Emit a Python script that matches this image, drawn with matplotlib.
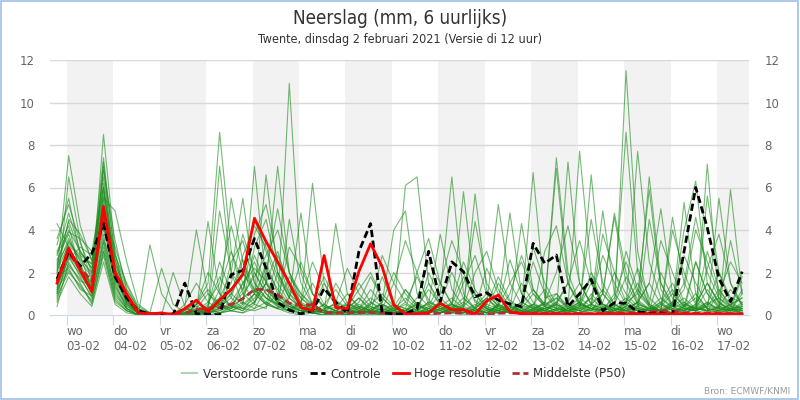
import matplotlib
matplotlib.use("Agg")
import matplotlib.pyplot as plt
import matplotlib.patches as patches
import numpy as np

# 6-uurlijkse tijdstappen, in dagen vanaf wo 03-02 00 uur (lokale tijd)
n_steps = 60
t = -5 / 24 + 0.25 * np.arange(n_steps)

day_names = ["wo", "do", "vr", "za", "zo", "ma", "di", "wo", "do", "vr", "za", "zo", "ma", "di", "wo"]
day_dates = ["03-02", "04-02", "05-02", "06-02", "07-02", "08-02", "09-02", "10-02",
             "11-02", "12-02", "13-02", "14-02", "15-02", "16-02", "17-02"]

controle = [1.7, 3.0, 2.3, 2.9, 4.3, 1.8, 0.8, 0.2, 0.05, 0.05,
            0.0, 1.5, 0.05, 0.05, 0.0, 1.9, 2.1, 3.6, 2.2, 0.6,
            0.23, 0.05, 0.2, 1.25, 0.6, 0.1, 3.0, 4.3, 0.1, 0.05,
            0.05, 0.3, 3.0, 0.63, 2.5, 2.04, 0.86, 1.05, 0.7, 0.52,
            0.4, 3.37, 2.43, 2.82, 0.4, 1.0, 1.68, 0.2, 0.58, 0.55,
            0.15, 0.08, 0.1, 0.0, 3.0, 6.0, 4.1, 1.73, 0.63, 2.04]

hoge_resolutie = [1.5, 3.15, 2.1, 1.1, 5.1, 2.0, 1.0, 0.1, 0.05, 0.1,
                  0.0, 0.3, 0.7, 0.15, 0.7, 1.2, 1.9, 4.55, 3.45, 2.5,
                  1.5, 0.36, 0.2, 2.8, 0.35, 0.3, 2.05, 3.35, 2.27, 0.47,
                  0.05, 0.05, 0.1, 0.55, 0.25, 0.25, 0.05, 0.66, 0.94, 0.15,
                  0.05, 0.05, 0.05, 0.05, 0.05, 0.05, 0.05, 0.05, 0.05, 0.05,
                  0.05, 0.05, 0.05, 0.05, 0.05, 0.05, 0.05, 0.05, 0.05, 0.05]

p50 = [1.6, 2.9, 2.2, 1.6, 4.6, 1.9, 0.8, 0.1, 0.05, 0.05,
       0.05, 0.1, 0.25, 0.3, 0.35, 0.5, 0.77, 1.2, 1.2, 0.95,
       0.55, 0.48, 0.48, 0.1, 0.1, 0.1, 0.12, 0.12, 0.1, 0.05,
       0.05, 0.05, 0.05, 0.08, 0.1, 0.1, 0.05, 0.05, 0.08, 0.1,
       0.1, 0.1, 0.08, 0.08, 0.05, 0.05, 0.05, 0.08, 0.1, 0.1,
       0.1, 0.15, 0.2, 0.2, 0.1, 0.08, 0.1, 0.1, 0.05, 0.05]

runs = [
    [2.0, 7.5, 4.2, 2.5, 6.5, 2.4, 1.0, 0.2, 0.1, 0.0, 0.0, 0.2, 0.5, 1.5, 8.6, 3.0, 1.0, 0.5, 0.3, 2.0,
     1.0, 0.3, 0.1, 0.5, 1.2, 0.4, 0.2, 0.1, 0.3, 1.5, 3.5, 2.0, 0.5, 0.2, 0.1, 0.4, 1.0, 0.3, 0.1, 0.2,
     0.5, 2.5, 1.0, 0.3, 0.2, 0.6, 1.8, 0.5, 0.2, 11.5, 3.0, 0.5, 0.2, 0.1, 0.4, 1.0, 0.3, 0.2, 0.5, 0.8],
    [1.0, 6.5, 3.5, 1.5, 8.5, 3.0, 0.5, 0.1, 0.0, 0.0, 0.1, 0.3, 0.2, 0.4, 7.0, 2.0, 0.5, 7.0, 1.5, 0.5,
     10.9, 2.0, 0.5, 0.2, 0.1, 0.3, 0.8, 0.2, 0.1, 0.0, 0.2, 0.5, 0.3, 1.0, 6.5, 1.0, 0.3, 0.1, 0.5, 0.2,
     0.1, 0.3, 0.5, 7.4, 2.0, 0.5, 0.3, 0.2, 1.0, 8.6, 2.0, 0.4, 0.2, 0.1, 0.5, 0.3, 1.2, 0.4, 0.2, 0.6],
    [3.3, 5.5, 2.8, 1.2, 7.2, 1.5, 0.3, 0.0, 3.3, 1.0, 0.2, 0.0, 0.1, 0.3, 0.6, 5.5, 2.5, 1.0, 6.6, 2.0,
     0.8, 4.8, 1.0, 0.3, 0.5, 0.2, 0.1, 0.6, 0.3, 0.2, 6.1, 6.5, 1.5, 0.4, 0.2, 0.1, 0.3, 0.8, 0.2, 0.1,
     0.3, 1.0, 0.4, 0.2, 7.2, 1.5, 0.5, 0.2, 0.1, 0.4, 7.7, 2.5, 0.8, 0.3, 0.2, 0.5, 1.5, 0.6, 0.2, 0.3],
    [1.5, 3.5, 2.6, 2.0, 5.5, 4.9, 2.5, 0.5, 0.1, 2.2, 0.5, 0.1, 0.2, 4.4, 1.0, 0.4, 0.3, 0.8, 1.5, 7.0,
     2.0, 0.5, 6.2, 1.5, 0.4, 0.2, 0.1, 0.3, 0.5, 0.2, 0.1, 0.4, 1.2, 0.5, 0.3, 5.8, 1.0, 0.3, 0.2, 0.1,
     0.4, 6.7, 0.8, 1.0, 0.3, 0.2, 6.6, 1.0, 0.3, 0.2, 0.4, 6.5, 1.5, 0.4, 0.2, 0.1, 7.1, 0.6, 0.3, 0.2],
    [0.8, 3.0, 2.2, 1.0, 4.5, 1.8, 0.6, 0.1, 0.0, 0.0, 2.0, 0.4, 4.0, 1.0, 0.5, 0.3, 1.5, 2.5, 1.2, 0.6,
     0.4, 0.3, 0.2, 0.1, 4.3, 1.0, 0.3, 0.2, 0.6, 4.0, 4.9, 1.0, 0.4, 0.2, 0.1, 0.3, 5.7, 1.2, 0.4, 0.2,
     0.1, 0.3, 0.5, 0.8, 0.4, 7.7, 2.0, 0.5, 0.3, 0.2, 0.6, 1.5, 5.0, 1.0, 0.4, 0.3, 0.2, 5.5, 1.5, 0.4],
    [2.5, 4.0, 3.0, 2.2, 6.0, 2.0, 0.8, 0.2, 0.0, 0.1, 0.0, 0.3, 0.2, 0.1, 4.9, 2.0, 5.5, 1.5, 0.8, 0.5,
     0.3, 0.6, 1.5, 0.5, 0.2, 0.1, 0.4, 0.2, 1.8, 0.5, 0.3, 0.2, 0.6, 0.4, 0.2, 0.5, 4.4, 1.5, 0.5, 0.2,
     4.3, 1.2, 0.5, 6.9, 1.5, 0.4, 0.2, 0.1, 0.3, 0.6, 1.0, 5.9, 1.2, 0.4, 5.3, 1.0, 0.3, 0.2, 5.9, 1.0],
    [1.2, 2.8, 1.8, 0.8, 3.5, 1.2, 0.4, 0.1, 0.0, 0.0, 0.1, 0.0, 0.5, 2.0, 1.0, 0.4, 0.2, 1.0, 3.5, 2.5,
     1.5, 0.8, 0.4, 0.2, 0.1, 0.0, 0.2, 0.5, 1.0, 0.4, 0.2, 0.8, 2.5, 1.5, 0.5, 0.3, 0.1, 0.2, 0.4, 1.5,
     2.5, 1.0, 0.4, 0.2, 0.1, 0.3, 0.5, 1.0, 4.8, 2.0, 0.5, 0.3, 0.2, 4.6, 1.5, 0.5, 0.2, 0.1, 0.3, 0.4],
    [0.4, 2.5, 1.5, 0.5, 3.0, 0.8, 0.2, 0.0, 0.0, 0.0, 0.0, 0.1, 0.0, 0.2, 0.5, 1.2, 2.0, 4.5, 3.0, 1.5,
     0.6, 0.3, 0.1, 0.0, 0.2, 0.5, 0.3, 0.1, 0.0, 0.2, 0.6, 1.8, 0.7, 0.3, 0.1, 0.0, 0.2, 0.5, 5.2, 1.5,
     0.5, 0.2, 0.1, 0.3, 0.6, 1.5, 0.5, 4.9, 1.0, 0.3, 0.2, 0.1, 0.5, 1.2, 0.4, 2.5, 1.0, 0.3, 0.2, 1.2],
    [4.3, 3.2, 2.0, 1.5, 4.0, 2.8, 1.5, 0.4, 0.1, 0.0, 0.0, 0.0, 0.2, 0.6, 1.5, 4.2, 2.0, 1.0, 0.5, 0.3,
     4.5, 1.5, 0.5, 0.2, 0.1, 0.0, 0.3, 0.8, 0.4, 0.2, 0.1, 0.3, 0.5, 3.8, 1.2, 0.4, 0.2, 0.1, 0.5, 4.8,
     1.0, 0.4, 0.2, 0.1, 0.3, 0.6, 4.5, 1.5, 0.5, 0.2, 0.1, 0.3, 0.8, 0.4, 4.0, 6.3, 1.5, 0.5, 0.3, 1.8],
    [1.8, 2.2, 1.2, 0.9, 3.2, 1.0, 0.3, 0.1, 0.0, 0.0, 0.0, 0.5, 1.5, 0.6, 0.3, 2.5, 3.5, 1.5, 0.8, 0.4,
     0.2, 0.1, 0.6, 1.8, 0.7, 0.3, 0.1, 0.2, 0.5, 0.3, 0.2, 0.1, 0.4, 1.5, 3.5, 2.0, 0.6, 0.3, 0.1, 0.2,
     0.5, 1.2, 0.5, 0.3, 0.2, 0.1, 0.4, 3.8, 2.0, 0.6, 0.3, 0.2, 0.1, 0.5, 1.5, 4.6, 2.0, 0.8, 0.4, 0.2],
    [2.2, 3.6, 2.5, 1.8, 5.0, 2.2, 0.9, 0.2, 0.0, 0.0, 0.1, 0.0, 0.0, 0.3, 0.8, 2.0, 1.2, 3.8, 5.2, 2.5,
     1.0, 0.5, 0.3, 0.2, 0.6, 2.2, 1.0, 0.4, 0.2, 0.1, 0.0, 0.2, 0.6, 0.3, 0.2, 1.5, 2.8, 1.0, 0.4, 0.2,
     0.1, 0.3, 0.6, 2.0, 4.2, 1.5, 0.5, 0.3, 0.2, 0.4, 1.2, 0.5, 3.5, 2.0, 0.6, 0.3, 0.2, 1.0, 2.5, 1.5],
    [1.4, 2.6, 3.2, 2.8, 4.2, 1.6, 0.5, 0.1, 0.0, 0.0, 0.0, 0.1, 0.3, 0.2, 0.5, 1.0, 2.8, 4.2, 3.2, 1.8,
     0.8, 0.4, 0.2, 0.1, 0.0, 0.1, 0.3, 1.2, 0.5, 0.2, 0.1, 0.0, 0.2, 0.4, 0.8, 0.3, 0.1, 0.2, 1.5, 0.6,
     0.3, 0.2, 3.0, 4.2, 1.5, 0.5, 0.3, 0.2, 0.1, 0.3, 0.6, 0.3, 0.2, 0.5, 1.2, 4.0, 2.5, 1.0, 0.4, 0.3],
    [0.9, 2.0, 1.4, 0.6, 2.8, 0.6, 0.2, 0.0, 0.0, 0.0, 0.0, 0.0, 0.1, 0.2, 0.3, 0.6, 1.5, 2.2, 1.6, 0.8,
     0.3, 0.2, 0.1, 0.3, 0.5, 0.2, 0.1, 0.0, 0.1, 0.3, 0.2, 0.1, 0.3, 0.6, 0.2, 0.1, 0.3, 0.8, 0.3, 0.1,
     0.2, 0.5, 0.3, 0.1, 0.2, 0.4, 0.8, 0.3, 0.2, 0.1, 0.3, 0.2, 0.5, 0.2, 0.1, 0.3, 0.6, 0.2, 0.1, 0.3],
    [2.8, 4.8, 3.0, 2.2, 6.8, 3.5, 1.2, 0.3, 0.0, 0.0, 0.0, 0.1, 0.0, 0.4, 2.5, 1.0, 0.5, 3.2, 4.5, 2.0,
     0.8, 0.3, 0.1, 0.2, 0.4, 0.2, 0.6, 1.8, 0.8, 0.3, 0.2, 0.1, 2.0, 0.8, 0.3, 0.2, 0.1, 0.4, 0.2, 1.0,
     2.8, 1.2, 0.4, 0.2, 0.5, 0.3, 0.2, 1.0, 4.6, 1.5, 0.5, 0.3, 0.2, 0.4, 0.8, 0.3, 5.6, 2.0, 0.6, 0.3],
    [1.6, 3.0, 2.4, 1.2, 4.8, 1.4, 0.4, 0.1, 0.0, 0.0, 0.0, 0.0, 0.2, 0.1, 0.3, 0.5, 1.0, 1.8, 2.8, 4.0,
     2.0, 1.0, 0.5, 0.2, 0.1, 0.0, 0.2, 0.4, 0.2, 0.1, 0.3, 2.0, 3.6, 1.5, 0.5, 0.3, 0.2, 0.1, 0.3, 0.5,
     0.2, 0.1, 0.4, 0.8, 0.3, 0.2, 0.5, 1.2, 0.5, 0.2, 0.1, 4.5, 1.5, 0.5, 0.3, 0.2, 0.4, 1.2, 0.5, 0.3],
    [3.0, 4.2, 2.0, 1.0, 5.8, 2.6, 1.0, 0.2, 0.0, 0.0, 0.1, 0.0, 0.0, 0.1, 1.2, 3.0, 1.5, 0.6, 2.5, 1.0,
     0.4, 0.2, 0.1, 0.0, 0.2, 0.5, 1.5, 0.6, 0.2, 0.1, 0.0, 0.1, 0.3, 0.2, 0.6, 2.5, 1.2, 0.4, 0.2, 0.1,
     0.3, 0.5, 0.2, 0.6, 1.5, 3.5, 1.5, 0.5, 0.3, 0.2, 0.6, 1.5, 0.5, 0.3, 0.2, 0.4, 3.0, 1.2, 0.4, 2.0],
    [0.6, 1.8, 1.0, 0.4, 2.5, 0.5, 0.1, 0.0, 0.0, 0.0, 0.0, 0.0, 0.0, 0.1, 0.2, 0.4, 0.8, 1.2, 0.8, 0.5,
     1.8, 1.0, 0.4, 0.2, 0.1, 0.0, 0.1, 0.2, 0.3, 0.1, 0.0, 0.2, 0.1, 0.3, 0.5, 0.2, 0.1, 0.0, 0.2, 0.4,
     0.1, 0.2, 0.3, 0.1, 0.2, 0.5, 0.3, 0.1, 0.2, 0.4, 0.2, 0.1, 0.2, 0.3, 0.1, 0.4, 0.2, 0.3, 0.1, 0.2],
    [2.4, 3.4, 2.8, 2.4, 5.2, 2.0, 0.7, 0.1, 0.0, 0.0, 0.0, 0.2, 0.6, 0.3, 0.1, 0.4, 1.2, 2.8, 1.5, 0.6,
     3.2, 2.2, 1.0, 0.4, 0.2, 0.1, 0.0, 0.2, 0.6, 2.0, 1.0, 0.4, 0.2, 0.1, 0.3, 0.8, 0.3, 2.2, 1.0, 0.4,
     0.2, 0.1, 0.3, 0.6, 0.2, 0.4, 2.0, 1.0, 0.4, 3.0, 1.2, 0.4, 0.2, 0.6, 2.8, 1.5, 0.5, 0.3, 3.5, 1.0],
    [1.1, 2.4, 1.6, 1.4, 3.8, 1.1, 0.3, 0.0, 0.0, 0.0, 0.0, 0.0, 0.1, 0.5, 1.8, 0.8, 0.3, 0.6, 1.5, 3.0,
     1.2, 0.5, 0.2, 0.1, 0.0, 0.2, 0.5, 0.2, 0.1, 0.0, 1.2, 0.5, 0.2, 0.1, 0.4, 0.2, 0.1, 0.5, 1.8, 0.7,
     0.3, 0.1, 0.2, 0.5, 0.2, 0.1, 1.0, 0.4, 0.2, 0.6, 2.2, 0.8, 0.3, 0.1, 0.2, 0.5, 1.5, 0.6, 0.2, 0.1],
    [3.6, 5.2, 3.4, 2.0, 6.2, 1.8, 0.6, 0.1, 0.0, 0.0, 0.0, 0.0, 0.3, 1.0, 0.4, 0.2, 0.1, 0.5, 2.0, 5.0,
     2.0, 0.8, 0.3, 0.1, 0.3, 1.0, 0.4, 0.2, 0.1, 0.0, 0.2, 0.6, 0.3, 0.1, 0.2, 0.4, 2.0, 3.0, 1.2, 0.4,
     0.2, 0.1, 0.4, 1.0, 0.4, 0.2, 0.5, 0.3, 0.8, 2.5, 1.0, 0.4, 0.2, 4.0, 2.0, 0.6, 0.3, 0.2, 0.5, 0.8],
    [1.3, 2.9, 2.0, 1.6, 4.4, 1.3, 0.5, 0.1, 0.0, 0.0, 0.0, 0.1, 0.0, 0.2, 0.5, 0.3, 0.8, 2.0, 1.0, 0.4,
     0.2, 0.6, 2.5, 1.2, 0.5, 0.2, 0.1, 0.0, 0.2, 0.5, 0.3, 0.1, 0.2, 0.6, 2.0, 0.8, 0.3, 0.1, 0.2, 0.4,
     0.2, 0.1, 0.3, 0.5, 1.5, 0.6, 0.3, 0.2, 0.1, 0.3, 0.6, 0.2, 0.4, 1.0, 0.4, 0.2, 0.6, 0.3, 0.2, 0.4],
    [2.6, 3.8, 2.2, 1.4, 7.0, 2.8, 1.2, 0.3, 0.1, 0.0, 0.0, 0.0, 0.2, 0.1, 0.3, 1.0, 2.0, 1.2, 0.6, 0.3,
     0.8, 2.5, 1.0, 0.4, 0.2, 0.1, 0.0, 0.5, 2.8, 1.5, 0.6, 0.2, 0.1, 0.3, 0.5, 0.2, 0.4, 1.0, 0.4, 2.6,
     1.0, 0.3, 0.2, 0.5, 0.2, 0.3, 0.8, 2.8, 1.5, 0.5, 0.2, 0.1, 0.3, 0.6, 0.3, 0.2, 2.2, 3.8, 1.5, 0.5],
    [0.7, 2.3, 1.7, 0.9, 3.4, 0.9, 0.3, 0.0, 0.0, 0.0, 0.0, 0.0, 0.0, 0.0, 0.1, 0.2, 0.5, 1.0, 2.2, 1.2,
     0.5, 0.2, 0.1, 0.0, 0.1, 0.3, 0.8, 0.3, 0.1, 0.0, 0.1, 0.2, 0.1, 0.3, 0.1, 0.2, 0.5, 0.2, 0.1, 0.3,
     0.6, 0.3, 0.1, 0.2, 0.4, 0.2, 0.1, 0.3, 0.5, 0.2, 0.1, 0.3, 0.2, 0.1, 0.4, 0.8, 0.3, 0.1, 0.2, 0.3],
    [1.9, 4.5, 3.8, 2.6, 5.6, 2.2, 0.8, 0.2, 0.0, 0.0, 0.0, 0.0, 0.0, 0.2, 0.6, 1.5, 3.8, 2.0, 1.0, 0.5,
     0.2, 0.1, 0.4, 1.5, 0.6, 0.3, 0.1, 0.2, 0.1, 0.3, 0.8, 0.3, 0.1, 0.2, 0.5, 1.8, 0.7, 0.3, 0.1, 0.2,
     0.4, 3.2, 1.5, 0.5, 0.2, 0.1, 0.3, 0.6, 2.0, 1.0, 0.4, 0.2, 0.6, 1.5, 0.5, 0.3, 0.2, 0.4, 1.2, 0.5],
    [1.0, 2.7, 1.9, 1.1, 3.6, 1.7, 0.6, 0.1, 0.0, 0.0, 0.0, 0.1, 0.4, 0.2, 0.1, 0.3, 0.6, 0.3, 1.2, 0.6,
     0.3, 0.1, 0.2, 0.5, 0.2, 0.1, 0.0, 0.1, 0.3, 0.1, 0.2, 0.5, 0.2, 0.1, 0.3, 0.6, 0.2, 0.1, 0.4, 0.2,
     0.1, 0.5, 1.2, 0.4, 0.2, 0.1, 0.3, 0.5, 0.2, 0.6, 1.5, 0.5, 0.2, 0.1, 0.3, 0.2, 0.5, 0.8, 0.3, 0.2],
    [2.1, 3.3, 2.7, 1.9, 4.6, 3.2, 1.4, 0.3, 0.0, 0.0, 0.0, 0.0, 0.1, 0.3, 0.8, 0.4, 0.2, 0.6, 1.5, 0.8,
     0.4, 0.2, 0.5, 0.2, 1.5, 0.6, 0.2, 0.1, 0.0, 0.2, 0.5, 0.2, 1.5, 0.6, 0.2, 0.1, 0.3, 0.1, 0.5, 0.3,
     1.5, 0.6, 0.2, 0.1, 0.3, 0.8, 0.4, 0.2, 0.5, 1.8, 0.7, 0.3, 0.2, 0.4, 0.2, 2.5, 1.0, 0.4, 0.2, 1.0],
    [1.7, 3.1, 2.3, 1.3, 5.4, 1.9, 0.7, 0.1, 0.0, 0.0, 0.0, 0.0, 0.0, 0.1, 0.2, 0.5, 0.3, 0.2, 0.4, 1.0,
     0.5, 0.2, 0.1, 0.0, 0.1, 0.2, 0.4, 0.2, 0.1, 0.0, 0.0, 0.1, 0.2, 0.1, 0.3, 0.2, 0.1, 0.3, 0.2, 0.1,
     0.2, 0.4, 0.2, 0.1, 0.3, 0.6, 0.3, 0.1, 0.2, 0.5, 0.2, 0.3, 0.6, 0.2, 0.1, 0.3, 0.2, 0.4, 0.3, 0.1],
    [2.9, 3.9, 3.6, 3.0, 6.0, 2.4, 1.0, 0.2, 0.0, 0.0, 0.0, 0.0, 0.5, 1.2, 0.5, 0.2, 0.4, 1.0, 0.5, 2.8,
     1.5, 0.6, 0.3, 0.1, 0.0, 0.4, 1.2, 2.0, 0.8, 0.3, 0.1, 0.0, 0.2, 0.5, 0.3, 0.1, 0.3, 0.8, 0.3, 0.2,
     0.1, 0.2, 0.6, 0.3, 0.1, 0.4, 1.5, 0.5, 0.3, 0.2, 0.4, 0.2, 2.0, 0.8, 0.3, 0.2, 0.5, 2.0, 0.8, 0.6],
    [1.2, 2.1, 1.3, 0.7, 3.0, 0.7, 0.2, 0.0, 0.0, 0.0, 0.0, 0.0, 0.0, 0.0, 0.1, 0.2, 0.1, 0.3, 0.6, 0.3,
     0.1, 0.0, 0.1, 0.2, 0.1, 0.0, 0.2, 0.1, 0.0, 0.1, 0.2, 0.1, 0.0, 0.1, 0.2, 0.3, 0.1, 0.0, 0.1, 0.3,
     0.1, 0.2, 0.1, 0.3, 0.2, 0.1, 0.2, 0.4, 0.1, 0.2, 0.3, 0.1, 0.2, 0.1, 0.3, 0.2, 0.1, 0.2, 0.3, 0.1],
    [2.3, 4.4, 2.9, 2.4, 7.4, 2.6, 0.9, 0.2, 0.0, 0.0, 0.0, 0.1, 0.0, 0.2, 0.4, 0.8, 2.6, 1.2, 0.5, 0.3,
     0.2, 0.5, 0.3, 0.1, 0.2, 0.6, 0.3, 0.1, 0.0, 0.4, 1.2, 0.5, 0.2, 0.1, 0.3, 0.1, 0.2, 0.5, 0.3, 0.2,
     0.6, 0.3, 0.2, 0.1, 0.2, 0.5, 0.3, 0.2, 0.4, 0.8, 0.3, 0.2, 0.1, 0.3, 0.6, 0.2, 0.4, 0.3, 0.2, 0.5],
]

grey = "#666666"

fig = plt.figure(figsize=(8, 4), dpi=100)
ax = fig.add_axes([0.0625, 0.2125, 0.8738, 0.6375])

# grijze banden voor om-en-om dagen
for d in range(0, 15, 2):
    ax.axvspan(d, d + 1, color="#f2f2f2", lw=0, zorder=0)

for y in range(2, 13, 2):
    ax.axhline(y, color="#d8d8d8", lw=1, zorder=0.5)

for i, r in enumerate(runs):
    ax.plot(t[:len(r)], r, color="#1c8c1c", lw=0.8, alpha=0.6, zorder=2,
            label="Verstoorde runs" if i == 0 else None)

ax.plot(t, p50, color="#b03030", lw=2, dashes=(2.6, 1.3), zorder=3, label="Middelste (P50)")
ax.plot(t, controle, color="black", lw=2, dashes=(2.6, 1.3), zorder=4, label="Controle")
ax.plot(t, hoge_resolutie, color="#ff0000", lw=2, zorder=5, label="Hoge resolutie")

ax.set_xlim(-0.36, 14.69)
ax.set_ylim(0, 12)
ax.set_yticks(range(0, 13, 2))
ax.set_xticks(range(15))
ax.set_xticklabels([f"{n}\n{dt}" for n, dt in zip(day_names, day_dates)],
                   ha="left", color=grey, fontsize=8.5, linespacing=1.25)
ax.tick_params(axis="x", length=7, color="#ccd6eb", pad=0)
ax.tick_params(axis="y", length=0, labelcolor=grey, labelsize=8.5, pad=11,
               labelright=True)
for s in ["top", "left", "right"]:
    ax.spines[s].set_visible(False)
ax.spines["bottom"].set_color("#ccd6eb")
ax.spines["bottom"].set_zorder(6)

fig.text(0.5, 0.955, "Neerslag (mm, 6 uurlijks)", ha="center", va="center",
         fontsize=13.5, color="#333333", fontstretch="condensed")
fig.text(0.5, 0.9, "Twente, dinsdag 2 februari 2021 (Versie di 12 uur)", ha="center",
         va="center", fontsize=9, color="#333333", fontstretch="condensed")

handles, labels = ax.get_legend_handles_labels()
order = ["Verstoorde runs", "Controle", "Hoge resolutie", "Middelste (P50)"]
hmap = dict(zip(labels, handles))
leg = fig.legend([hmap[o] for o in order], order, loc="center", ncol=4,
                 bbox_to_anchor=(0.505, 0.065), frameon=False, fontsize=8.6,
                 handlelength=1.3, columnspacing=1.0, handletextpad=0.45)
for txt in leg.get_texts():
    txt.set_color("#333333")
leg.legend_handles[0].set_alpha(0.35)
leg.legend_handles[0].set_linewidth(1.5)

fig.text(0.988, 0.022, "Bron: ECMWF/KNMI", ha="right", va="center", fontsize=6.5,
         color="#999999")

fig.add_artist(patches.Rectangle((0.001, 0.002), 0.997, 0.996, transform=fig.transFigure,
                                 fill=False, edgecolor="#9ebfe6", lw=1.2))

fig.savefig("out.png", dpi=100)
